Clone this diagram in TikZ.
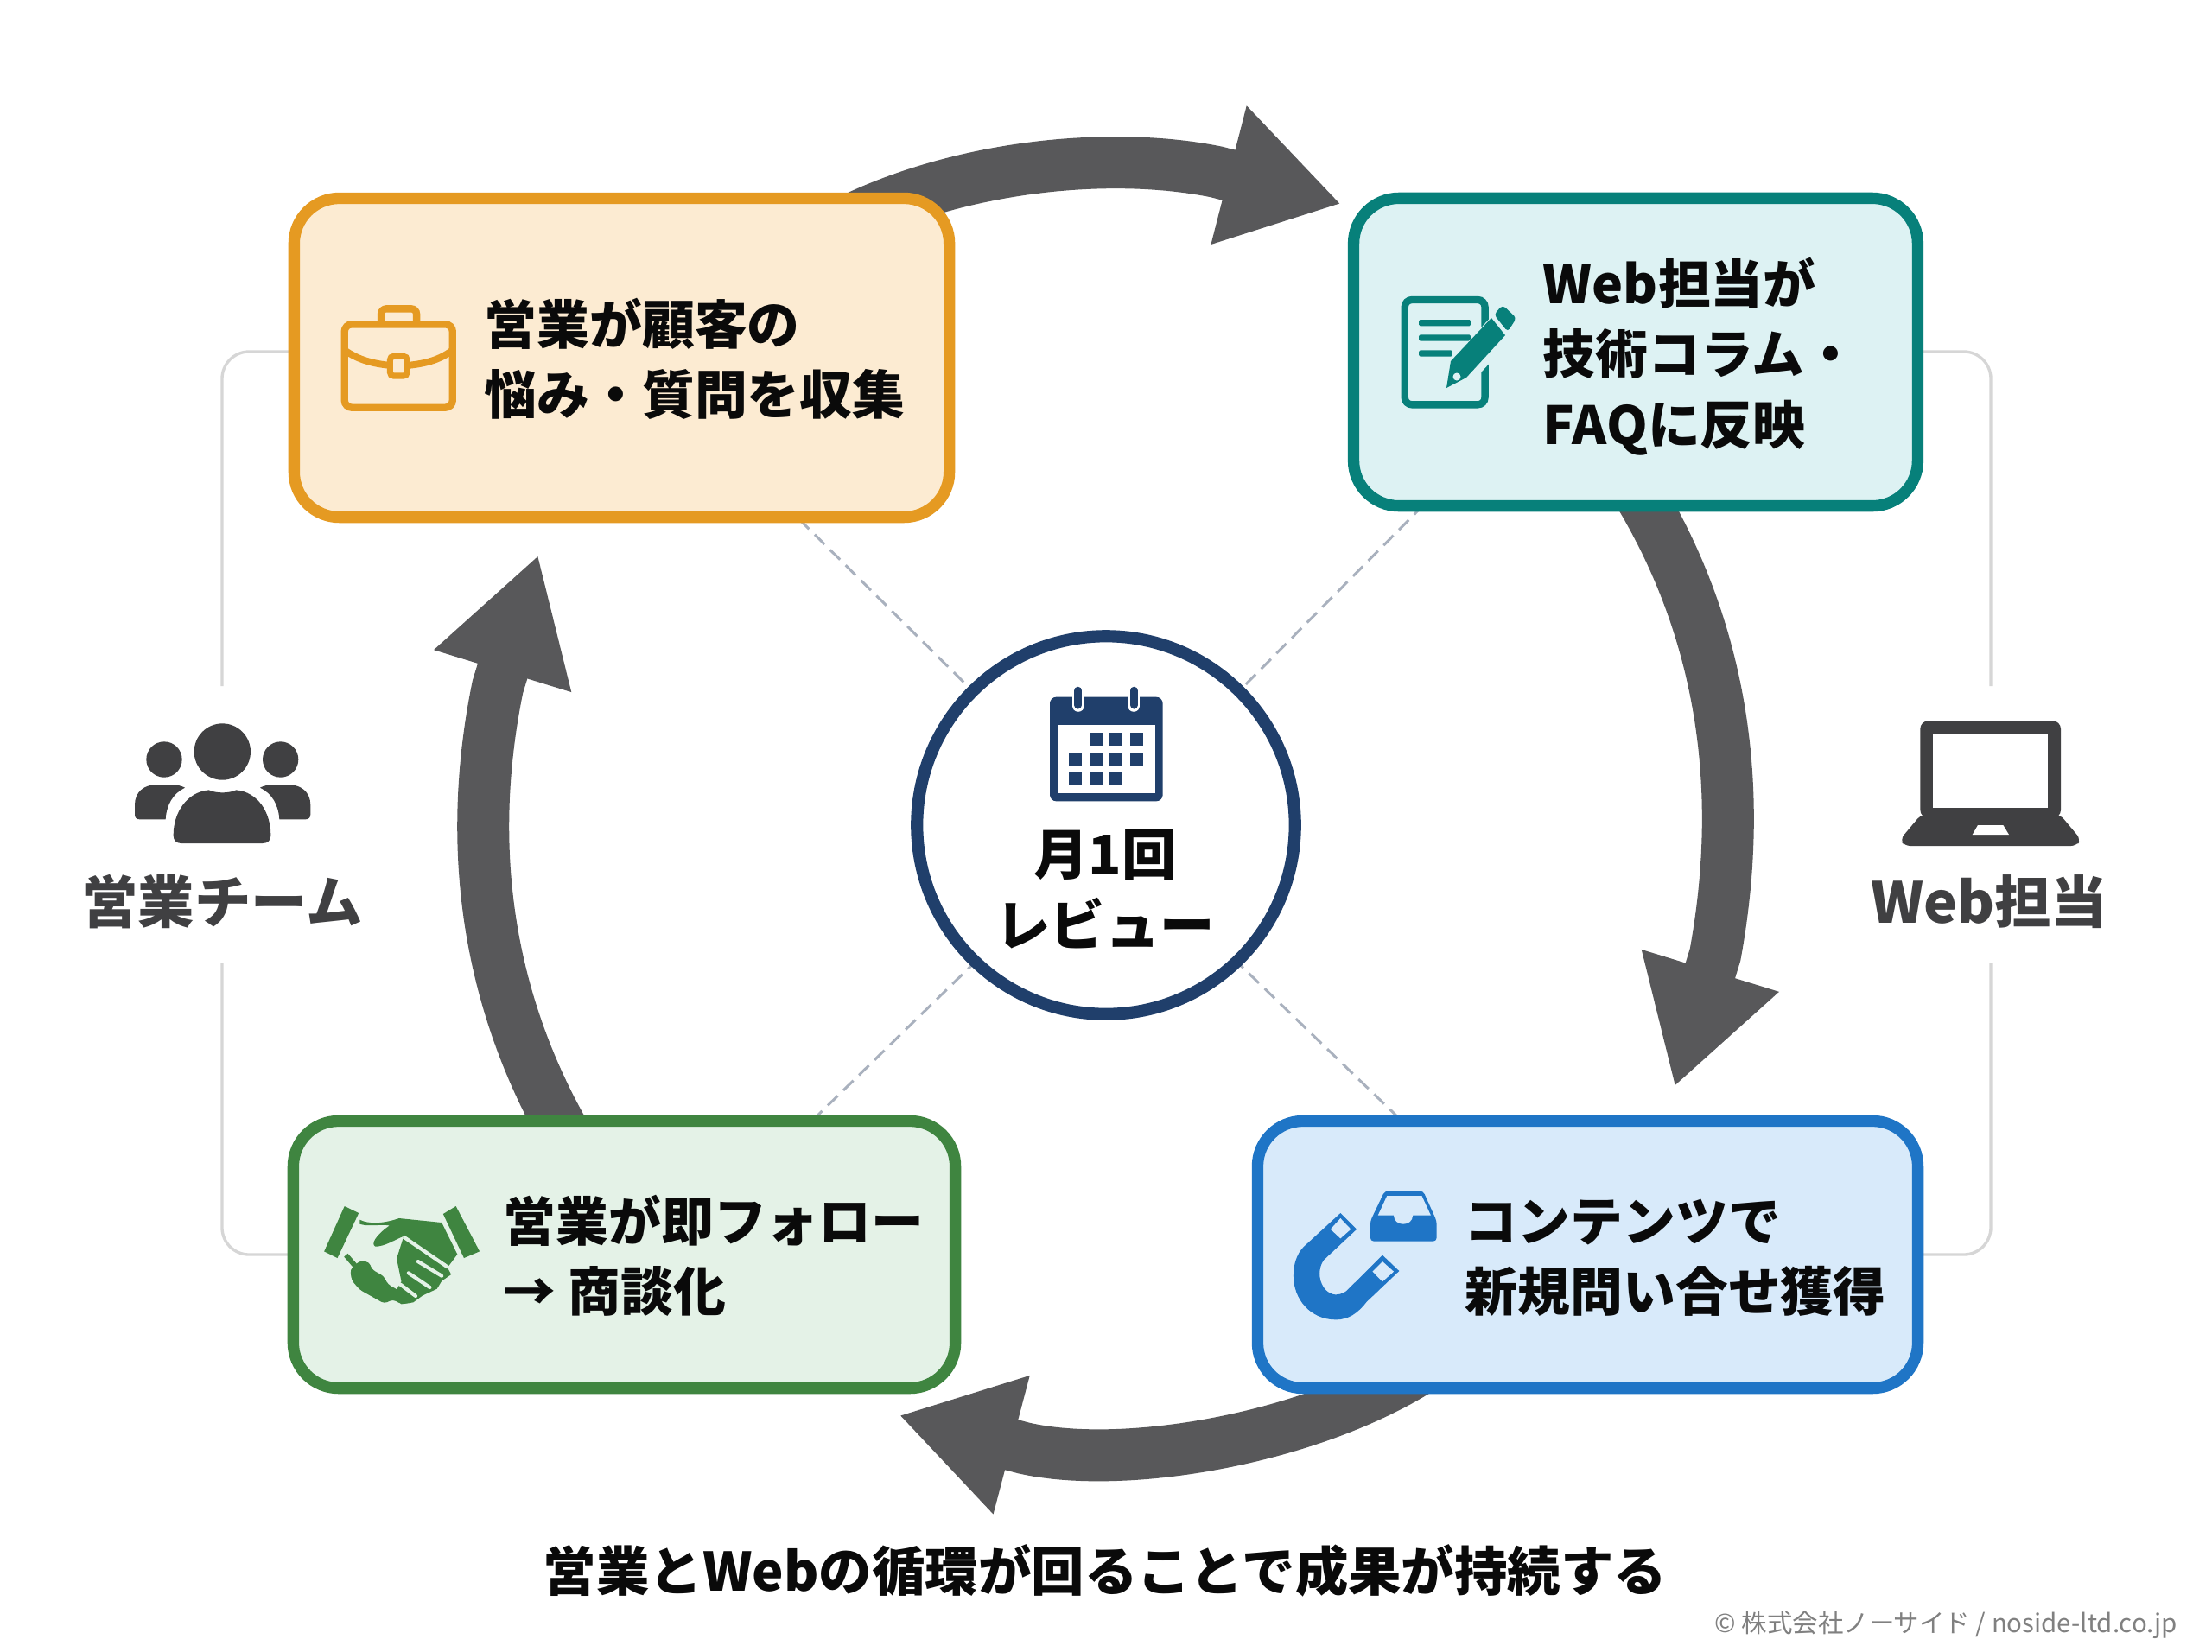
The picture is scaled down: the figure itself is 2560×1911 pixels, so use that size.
\documentclass[tikz,border=0pt]{standalone}
\usepackage{fontspec}
\setmainfont{Noto Sans CJK JP}
\usetikzlibrary{arrows.meta}
\definecolor{cOrange}{HTML}{E59A22}\definecolor{fOrange}{HTML}{FCEBD2}
\definecolor{cTeal}{HTML}{07807A}\definecolor{fTeal}{HTML}{DDF2F3}
\definecolor{cGreen}{HTML}{3F8540}\definecolor{fGreen}{HTML}{E4F2E7}
\definecolor{cBlue}{HTML}{1F75C6}\definecolor{fBlue}{HTML}{D8EAFA}
\definecolor{cNavy}{HTML}{203F6B}
\definecolor{cDark}{HTML}{404042}
\definecolor{cArrow}{HTML}{58585A}
\definecolor{cSide}{HTML}{D6D6D6}
\definecolor{cDash}{HTML}{A9B1BE}
\definecolor{cInk}{HTML}{0A0A0A}
\tikzset{
  flow/.style={draw=cArrow,line width=14.4pt,line cap=butt,fill=none},
  sideline/.style={draw=cSide,line width=0.8pt,rounded corners=7.5pt},
  spoke/.style={draw=cDash,line width=0.72pt,dash pattern=on 3.84pt off 2.2pt},
  cardbox/.style={rectangle,rounded corners=12.6pt,line width=3.2pt,inner sep=0pt},
  cardtext/.style={anchor=west,align=left,inner sep=0pt,text=cInk,font=\fontsize{14.6}{19.5}\selectfont\bfseries},
  rolelabel/.style={anchor=center,inner sep=0pt,text=cDark,font=\fontsize{15.7}{19}\selectfont\bfseries},
  zoomA/.style={x=0.13165pt,y=-0.08pt},
}
\begin{document}
\begin{tikzpicture}[x=0.24pt,y=-0.24pt]
\useasboundingbox (0,0) rectangle (2560,1911);
\fill[white] (0,0) rectangle (2560,1911);

% free ends
\coordinate (slA1) at (400,407); \coordinate (slA2) at (257,407); \coordinate (slA3) at (257,794);
\coordinate (slB1) at (400,1452); \coordinate (slB2) at (257,1452); \coordinate (slB3) at (257,1115);
\coordinate (slC1) at (2150,407); \coordinate (slC2) at (2304,407); \coordinate (slC3) at (2304,794);
\coordinate (slD1) at (2150,1452); \coordinate (slD2) at (2304,1452); \coordinate (slD3) at (2304,1115);
\draw[sideline] (slA1) -- (slA2) -- (slA3);
\draw[sideline] (slB1) -- (slB2) -- (slB3);
\draw[sideline] (slC1) -- (slC2) -- (slC3);
\draw[sideline] (slD1) -- (slD2) -- (slD3);

\coordinate (spA1) at (925,601); \coordinate (spA2) at (1135,809);
\coordinate (spB1) at (1648,584); \coordinate (spB2) at (1425,809);
\coordinate (spC1) at (940,1297); \coordinate (spC2) at (1135,1107);
\coordinate (spD1) at (1620,1295); \coordinate (spD2) at (1425,1107);
\draw[spoke] (spA1) -- (spA2);
\draw[spoke] (spB1) -- (spB2);
\draw[spoke] (spC1) -- (spC2);
\draw[spoke] (spD1) -- (spD2);

% ring arrows
\coordinate (arA0) at (990,252); \coordinate (arAq) at (1408,199); \coordinate (arA1) at (1552,236);
\draw[flow,-{Triangle[length=32.2pt,width=37.4pt]}] (arA0) .. controls (1122,190) and (1290,175) .. (arAq) -- (arA1);
\coordinate (arB0) at (1890,560); \coordinate (arBq) at (1985,1105); \coordinate (arB1) at (1938,1258);
\draw[flow,-{Triangle[length=33.8pt,width=37.4pt]}] (arB0) .. controls (1965,680) and (2030,860) .. (arBq) -- (arB1);
\coordinate (arC0) at (1642,1585); \coordinate (arCq) at (1185,1676); \coordinate (arC1) at (1040.5,1638);
\draw[flow,-{Triangle[length=32.3pt,width=37.4pt]}] (arC0) .. controls (1512,1666) and (1300,1702) .. (arCq) -- (arC1);
\coordinate (arD0) at (664,1330); \coordinate (arDq) at (576,795); \coordinate (arD1) at (623,642);
\draw[flow,-{Triangle[length=33.8pt,width=37.4pt]}] (arD0) .. controls (591,1210) and (528,1030) .. (arDq) -- (arD1);

% cards
\node[cardbox,draw=cOrange,fill=fOrange,minimum width=182pt,minimum height=88.6pt] (cardSales) at (719.5,414) {};
\node[cardbox,draw=cTeal,fill=fTeal,minimum width=156.7pt,minimum height=85.5pt] (cardWeb) at (1893,407.5) {};
\node[cardbox,draw=cGreen,fill=fGreen,minimum width=183.9pt,minimum height=74.2pt] (cardFollow) at (722.5,1452) {};
\node[cardbox,draw=cBlue,fill=fBlue,minimum width=183.4pt,minimum height=74.2pt] (cardLead) at (1837.5,1452) {};

\node[cardtext] (txtSales) at (560,415) {営業が顧客の\\悩み・質問を収集};
\node[cardtext] (txtWeb) at (1785,412.5) {Web担当が\\技術コラム・\\FAQに反映};
\node[cardtext] (txtFollow) at (582,1453) {営業が即フォロー\\→ 商談化};
\node[cardtext] (txtLead) at (1695,1456) {コンテンツで\\新規問い合せ獲得};

% centre
\node[circle,draw=cNavy,fill=white,line width=3.4pt,minimum size=105pt,inner sep=0pt] (hub) at (1280,955) {};
\node[anchor=center,align=center,inner sep=0pt,text=cInk,font=\fontsize{15.2}{19.6}\selectfont\bfseries] (txtHub) at (1279,1029) {月1回\\レビュー};

% calendar
\begin{scope}[shift={(1040,720)},x=0.08pt,y=-0.08pt]
  \fill[cNavy,rounded corners=1.8pt] (525,260) rectangle (917,622);
  \fill[white] (552,357) rectangle (890,595);
  \foreach \cx in {623,817}{
    \draw[white,line width=3.4pt,line cap=round] (\cx,240) -- (\cx,290);
    \draw[cNavy,line width=2.2pt,line cap=round] (\cx,238) -- (\cx,288);
  }
  \foreach \cx/\cy in {663/385,733/385,803/385,592/453,663/453,733/453,803/453,592/520,663/520,733/520}
    \fill[cNavy] (\cx,\cy) rectangle ++(45,44);
\end{scope}

% briefcase
\begin{scope}[shift={(300,200)},zoomA]
  \draw[cOrange,line width=2pt,rounded corners=2pt] (180,526) rectangle (408,815);
  \draw[cOrange,line width=2pt,rounded corners=1.5pt] (257,520) -- (257,472) -- (332,472) -- (332,520);
  \draw[cOrange,line width=1.9pt] (182,618) .. controls (210,650) and (240,662) .. (272,668);
  \draw[cOrange,line width=1.9pt] (318,668) .. controls (350,662) and (380,650) .. (406,618);
  \draw[cOrange,line width=1.7pt,rounded corners=1pt] (276,637) rectangle (312,705);
\end{scope}

% document and pencil
\begin{scope}[shift={(1540,200)},x=0.12245pt,y=-0.08pt]
  \draw[cTeal,line width=2pt,rounded corners=2pt] (168,441) rectangle (350,805);
  \fill[cTeal,rounded corners=0.4pt] (200,510) rectangle (318,532);
  \fill[cTeal,rounded corners=0.4pt] (200,562) rectangle (318,584);
  \fill[cTeal,rounded corners=0.4pt] (200,616) rectangle (276,638);
\end{scope}
\begin{scope}
  \draw[fTeal,line width=8.4pt] (1681,441) -- (1752,364);
  \fill[cTeal] (1674,449) -- (1679,418) -- (1726,368) -- (1742,388) -- (1697,437) -- cycle;
  \fill[cTeal,rounded corners=1pt] (1729,364) -- (1739,353) -- (1755,368) -- (1745,384) -- cycle;
  \fill[fTeal] (1686,436) circle[radius=4.5];
\end{scope}

% handshake
\begin{scope}[shift={(300,1270)},zoomA]
  \fill[cGreen] (180,378) -- (210,402) -- (165,558) -- (137,535) -- cycle;
  \fill[cGreen] (415,378) -- (465,535) -- (432,558) -- (388,405) -- cycle;
  \fill[cGreen] (305,482) -- (395,585) -- (405,615) -- (385,638) -- (375,665) -- (345,688) -- (325,712) -- (300,718) -- (280,695) -- (300,640) -- (290,560) -- cycle;
  \draw[cGreen,line width=1.4pt] (183,548) -- (205,590);
  \fill[cGreen,rounded corners=0.9pt] (192,598) -- (212,568) -- (232,572) -- (238,598) -- (262,620) -- (272,650) -- (292,668) -- (310,700) -- (325,712) -- (300,718) -- (282,702) -- (264,716) -- (238,692) -- (212,668) -- (195,635) -- cycle;
  \fill[cGreen] (212,425) .. controls (230,440) and (260,440) .. (295,420) -- (385,435) -- (418,545) -- (400,585) -- (305,482) .. controls (285,495) and (265,518) .. (245,518) .. controls (235,510) and (245,480) .. (275,445) .. controls (255,440) and (230,450) .. (212,440) -- cycle;
  \draw[fGreen,line width=1pt] (305,485) -- (398,590);
  \draw[fGreen,line width=1pt,line cap=round] (335,570) -- (385,620);
  \draw[fGreen,line width=1pt,line cap=round] (315,610) -- (360,660);
  \draw[fGreen,line width=1pt,line cap=round] (298,650) -- (330,690);
\end{scope}

% magnet and inbox
\begin{scope}[shift={(1430,1270)},x=0.12552pt,y=-0.08pt]
  \fill[cBlue,rounded corners=1pt] (330,325) -- (415,325) -- (445,430) -- (445,500) -- (298,500) -- (298,430) -- cycle;
  \fill[fBlue] (335,342) -- (412,342) -- (432,410) -- (392,410) .. controls (392,450) and (350,450) .. (350,410) -- (315,410) -- cycle;
  \fill[cBlue] (232,402) -- (268,458) -- (195,565) .. controls (175,610) and (190,680) .. (220,685) .. controls (235,685) and (245,675) .. (250,665) -- (325,548) -- (362,603) -- (290,710) .. controls (270,750) and (250,772) .. (222,772) .. controls (165,772) and (128,700) .. (128,620) .. controls (128,580) and (135,545) .. (150,520) -- cycle;
  \fill[fBlue] (232,420) -- (255,458) -- (232,490) -- (210,458) -- cycle;
  \fill[fBlue] (325,570) -- (350,605) -- (325,640) -- (303,605) -- cycle;
\end{scope}

% people
\begin{scope}[shift={(80,800)},x=0.08pt,y=-0.08pt]
  \fill[cDark] (532,210) circle[radius=98];
  \fill[cDark] (330,237) circle[radius=62];
  \fill[cDark] (734,237) circle[radius=62];
  \fill[cDark] (390,528) .. controls (372,528) and (362,518) .. (362,500) .. controls (362,420) and (410,350) .. (485,343) .. controls (510,355) and (555,355) .. (580,343) .. controls (655,350) and (700,420) .. (700,500) .. controls (700,518) and (690,528) .. (672,528) -- cycle;
  \fill[cDark] (245,445) .. controls (233,445) and (228,438) .. (228,428) -- (228,395) .. controls (228,350) and (260,325) .. (300,325) -- (355,325) .. controls (375,325) and (390,328) .. (402,335) .. controls (360,355) and (338,395) .. (335,445) -- cycle;
  \fill[cDark] (820,445) .. controls (832,445) and (838,438) .. (838,428) -- (838,395) .. controls (838,350) and (805,325) .. (765,325) -- (710,325) .. controls (690,325) and (675,328) .. (663,335) .. controls (705,355) and (727,395) .. (730,445) -- cycle;
\end{scope}
\node[rolelabel] (txtSalesTeam) at (257,1044) {営業チーム};

% laptop
\begin{scope}[shift={(2140,800)},x=0.08pt,y=-0.08pt]
  \fill[cDark,rounded corners=2.2pt] (247,440) -- (247,103) -- (735,103) -- (735,440) -- cycle;
  \fill[cDark,rounded corners=1.6pt] (250,428) -- (732,428) -- (805,515) -- (790,537) -- (192,537) -- (177,515) -- cycle;
  \fill[white] (292,150) rectangle (690,405);
  \fill[white] (447,465) -- (535,465) -- (555,498) -- (428,498) -- cycle;
\end{scope}
\node[rolelabel] (txtWebRole) at (2302,1044) {Web担当};

\node[anchor=center,inner sep=0pt,text=cInk,font=\fontsize{14.75}{16}\selectfont\bfseries] (txtFooter) at (1279,1818) {営業とWebの循環が回ることで成果が持続する};
\node[anchor=east,inner sep=0pt,text=black!50,font=\fontsize{7.07}{9}\selectfont] (txtCopy) at (2521,1881) {© 株式会社ノーサイド / noside-ltd.co.jp};
\end{tikzpicture}
\end{document}
